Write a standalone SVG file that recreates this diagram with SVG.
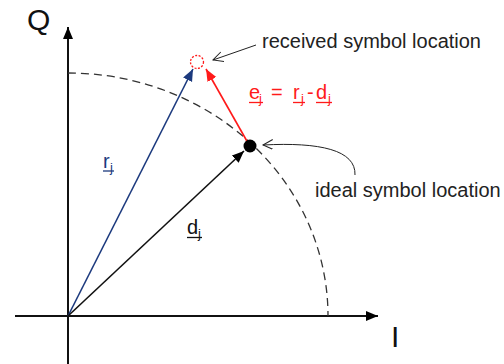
<svg xmlns="http://www.w3.org/2000/svg" width="504" height="364" viewBox="0 0 504 364">
<defs>
<style>
text{font-family:"Liberation Sans",Arial,sans-serif;}
.lbl{font-size:20px;fill:#222;}
.ax{font-size:30px;fill:#111;}
.sub{font-size:13px;}
</style>
<marker id="ah" markerUnits="userSpaceOnUse" markerWidth="14" markerHeight="12" refX="12" refY="5" orient="auto"><path d="M0,0 L12,5 L0,10 Z" fill="#000"/></marker>
<marker id="ahb" markerUnits="userSpaceOnUse" markerWidth="14" markerHeight="12" refX="12" refY="5" orient="auto"><path d="M0,0 L12,5 L0,10 Z" fill="#1c3a7e"/></marker>
<marker id="ahr" markerUnits="userSpaceOnUse" markerWidth="14" markerHeight="12" refX="12" refY="5" orient="auto"><path d="M0,0 L12,5 L0,10 Z" fill="#ff1a1a"/></marker>
<marker id="open" markerUnits="userSpaceOnUse" markerWidth="12" markerHeight="12" refX="10" refY="5" orient="auto"><path d="M0,0 L10,5 L0,10" fill="none" stroke="#222" stroke-width="1"/></marker>
</defs>
<g id="axes">
<line x1="68" y1="364" x2="68" y2="27" stroke="#111" stroke-width="2" marker-end="url(#ah)"/>
<line x1="15" y1="316" x2="378" y2="316" stroke="#111" stroke-width="2" marker-end="url(#ah)"/>
<text class="ax" x="27" y="30">Q</text>
<text class="ax" x="391" y="347">I</text>
</g>
<g id="arc">
<path d="M68,73 A260,243 0 0 1 328,316" fill="none" stroke="#333" stroke-width="1.3" stroke-dasharray="8,5"/>
</g>
<g id="connectors">
<line x1="68" y1="316" x2="193" y2="69" stroke="#1c3a7e" stroke-width="1.6" marker-end="url(#ahb)"/>
<line x1="68" y1="316" x2="244" y2="151" stroke="#111" stroke-width="1.6" marker-end="url(#ah)"/>
<line x1="248" y1="143" x2="206" y2="69" stroke="#ff1a1a" stroke-width="1.6" marker-end="url(#ahr)"/>
<path d="M256,45 L213,60" fill="none" stroke="#222" stroke-width="1" marker-end="url(#open)"/>
<path d="M355,175 C356,150 320,142 263,145" fill="none" stroke="#222" stroke-width="1" marker-end="url(#open)"/>
</g>
<g id="received">
<circle cx="197" cy="62" r="6.5" fill="none" stroke="#ff1a1a" stroke-width="1.3" stroke-dasharray="2,1.5"/>
<text class="lbl" x="262" y="48">received symbol location</text>
</g>
<g id="ideal">
<circle cx="250" cy="146" r="6.5" fill="#000"/>
<text class="lbl" x="315" y="197">ideal symbol location</text>
</g>
<g id="label-e" fill="#ff1a1a">
<text x="249" y="99" font-size="20">e</text>
<text class="sub" x="259" y="103">j</text>
<text x="271" y="99" font-size="20">=</text>
<text x="293" y="99" font-size="20">r</text>
<text class="sub" x="301" y="103">j</text>
<text x="307" y="99" font-size="20">-</text>
<text x="316" y="99" font-size="20">d</text>
<text class="sub" x="328" y="103">j</text>
<g stroke="#ff1a1a" stroke-width="1.3">
<line x1="249" y1="102.5" x2="263" y2="102.5"/>
<line x1="293" y1="102.5" x2="305" y2="102.5"/>
<line x1="316" y1="102.5" x2="332" y2="102.5"/>
</g>
</g>
<g id="label-r" fill="#1c3a7e">
<text x="103" y="168" font-size="20">r</text>
<text class="sub" x="110" y="172">j</text>
<line x1="103" y1="171" x2="114" y2="171" stroke="#1c3a7e" stroke-width="1.3"/>
</g>
<g id="label-d" fill="#111">
<text x="187" y="234" font-size="20">d</text>
<text class="sub" x="198" y="238">j</text>
<line x1="187" y1="237.5" x2="202" y2="237.5" stroke="#111" stroke-width="1.3"/>
</g>
</svg>
